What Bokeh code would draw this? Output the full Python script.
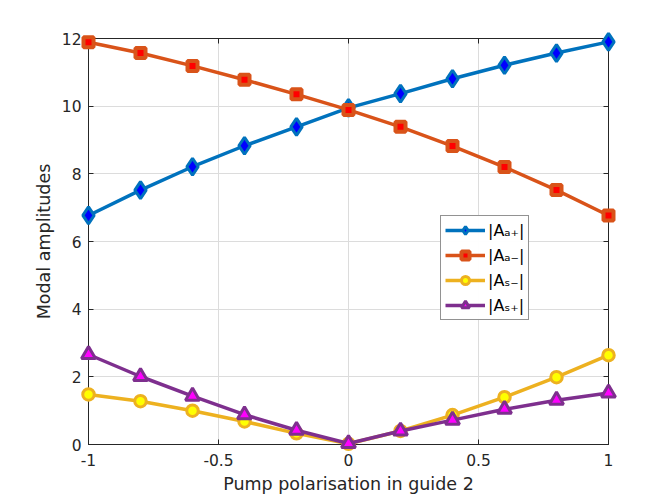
from bokeh.plotting import figure
from bokeh.models import (LinearAxis, FixedTicker, Legend, LegendItem, Range1d,
                          ColumnDataSource)
from bokeh.embed import file_html
from bokeh.resources import INLINE

# ---- data ----
x = [-1.0, -0.8, -0.6, -0.4, -0.2, 0.0, 0.2, 0.4, 0.6, 0.8, 1.0]
A_a_plus = [6.77, 7.52, 8.21, 8.83, 9.39, 9.95, 10.37, 10.81, 11.21, 11.57, 11.90]
A_a_minus = [11.89, 11.57, 11.19, 10.78, 10.35, 9.89, 9.39, 8.82, 8.20, 7.52, 6.77]
A_s_minus = [1.48, 1.28, 1.00, 0.68, 0.33, 0.02, 0.40, 0.87, 1.40, 1.99, 2.64]
A_s_plus = [2.66, 2.01, 1.43, 0.88, 0.42, 0.03, 0.40, 0.72, 1.04, 1.31, 1.52]

x_ticks = [-1, -0.5, 0, 0.5, 1]
x_tick_labels = ["-1", "-0.5", "0", "0.5", "1"]
y_ticks = [0, 2, 4, 6, 8, 10, 12]
y_tick_labels = ["0", "2", "4", "6", "8", "10", "12"]

labels = ["|A\u2090\u208A|", "|A\u2090\u208B|", "|A\u209B\u208B|", "|A\u209B\u208A|"]

FONT = "DejaVu Sans"
TXT = "#262626"

p = figure(width=664, height=496, output_backend="svg", toolbar_location=None,
           x_range=Range1d(-1, 1), y_range=Range1d(0, 12),
           min_border_left=88, min_border_right=56, min_border_top=38,
           min_border_bottom=49)
p.background_fill_color = "white"
p.border_fill_color = "white"
p.outline_line_color = "#262626"
p.outline_line_width = 1

for ax, ticks, labs in ((p.xaxis[0], x_ticks, x_tick_labels), (p.yaxis[0], y_ticks, y_tick_labels)):
    ax.ticker = FixedTicker(ticks=ticks)
    ax.major_label_overrides = {t: l for t, l in zip(ticks, labs)}
    ax.major_tick_in = 5
    ax.major_tick_out = 0
    ax.minor_tick_line_color = None
    ax.axis_line_color = "#262626"
    ax.major_tick_line_color = "#262626"
    ax.major_label_text_font = FONT
    ax.major_label_text_font_size = "15.5px"
    ax.major_label_text_color = TXT
    ax.axis_label_text_font = FONT
    ax.axis_label_text_font_size = "17.5px"
    ax.axis_label_text_font_style = "normal"
    ax.axis_label_text_color = TXT

p.xaxis.axis_label = "Pump polarisation in guide 2"
p.yaxis.axis_label = "Modal amplitudes"
p.xaxis.major_label_standoff = 9
p.yaxis.major_label_standoff = 7
p.xaxis.axis_label_standoff = 5
p.yaxis.axis_label_standoff = 5

# box ticks on top and right (no labels)
for loc, ticks in (("above", x_ticks), ("right", y_ticks)):
    ax = LinearAxis(ticker=FixedTicker(ticks=ticks), major_tick_in=5, major_tick_out=0,
                    minor_tick_line_color=None,
                    major_label_overrides={t: "" for t in ticks},
                    major_label_standoff=0, axis_line_color="#262626",
                    major_tick_line_color="#262626")
    p.add_layout(ax, loc)

p.grid.grid_line_color = "#dcdcdc"
p.grid.grid_line_width = 1
p.xgrid.ticker = FixedTicker(ticks=x_ticks)
p.ygrid.ticker = FixedTicker(ticks=y_ticks)

src = ColumnDataSource(dict(x=x, a1=A_a_plus, a2=A_a_minus, s1=A_s_minus, s2=A_s_plus))

specs = [
    ("a1", "#0072BD", "#0000FF", "diamond", 17, 3),
    ("a2", "#D95319", "#FF0000", "square", 10, 4),
    ("s1", "#EDB120", "#FFFF00", "circle", 11.5, 3),
    ("s2", "#7E2F8E", "#FF00FF", "triangle", 14, 3),
]

items = []
for (col, lc, fc, mk, sz, lw), lab in zip(specs, labels):
    ln = p.line("x", col, source=src, line_color=lc, line_width=3.5, level="overlay")
    mr = p.scatter("x", col, source=src, marker=mk, size=sz, line_color=lc,
                   fill_color=fc, line_width=lw, level="overlay")
    items.append(LegendItem(label=lab, renderers=[ln, mr]))

legend = Legend(items=items, location=(352, 124), orientation="vertical")
legend.label_text_font = FONT
legend.label_text_font_size = "16px"
legend.label_text_color = "black"
legend.border_line_color = "#262626"
legend.border_line_width = 1
legend.background_fill_color = "white"
legend.glyph_width = 40
legend.glyph_height = 20
legend.spacing = 5
legend.padding = 4
legend.margin = 0
legend.label_standoff = 3
legend.label_height = 20
p.add_layout(legend, "center")

open("out.html", "w").write(file_html(p, INLINE))
